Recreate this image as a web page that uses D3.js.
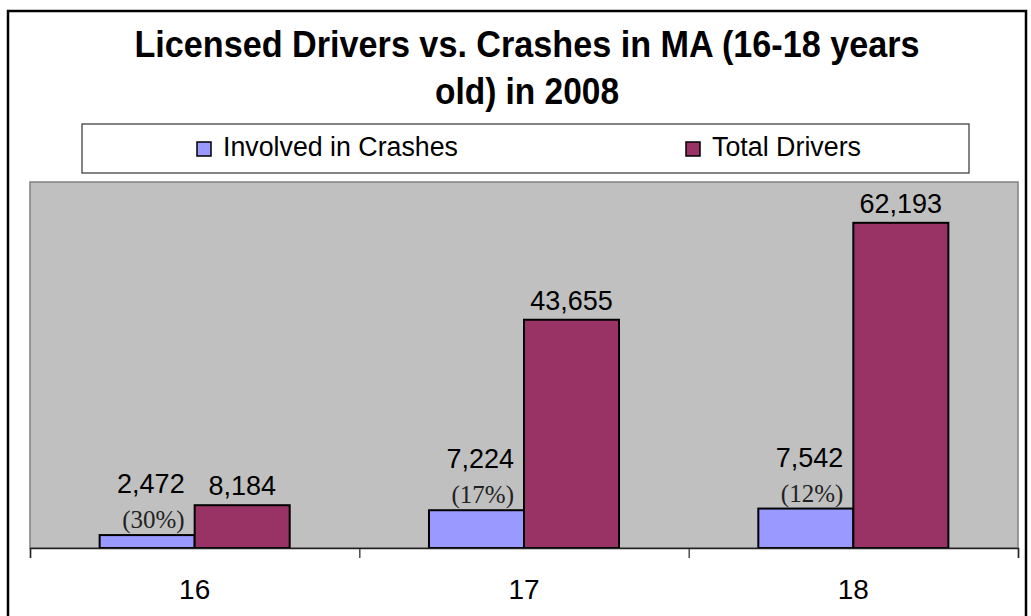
<!DOCTYPE html>
<html>
<head>
<meta charset="utf-8">
<script src="https://cdn.jsdelivr.net/npm/d3@7"></script>
<style>
  body { margin: 0; background: #fff; }
  text { font-family: Arial, "Liberation Sans", sans-serif; }
</style>
</head>
<body>
<svg id="chart"></svg>
<script>
// data
let ages = ["16", "17", "18"];
let seriesNames = ["Involved in Crashes", "Total Drivers"];
let crashes = [2472, 7224, 7542];
let totals = [8184, 43655, 62193];
let titleLines = ["Licensed Drivers vs. Crashes in MA (16-18 years", "old) in 2008"];
let colors = ["#9999ff", "#993366"];

let svg = d3.select("#chart").attr("width", 1031).attr("height", 616);

// outer frame
svg.append("rect")
    .attr("x", 8).attr("y", 11)
    .attr("width", 1018).attr("height", 640)
    .attr("fill", "#fff").attr("stroke", "#000").attr("stroke-width", 2.5);

// title, squeezed a bit like the original
let titleWidths = [785, 184];
svg.selectAll(".title").data(titleLines).enter()
    .append("text")
    .attr("class", "title")
    .attr("x", 527)
    .attr("y", function (d, i) { return 57 + i * 47; })
    .attr("text-anchor", "middle")
    .attr("font-weight", "bold")
    .attr("font-size", 37)
    .attr("textLength", function (d, i) { return titleWidths[i]; })
    .attr("lengthAdjust", "spacingAndGlyphs")
    .text(function (d) { return d; });

// legend
svg.append("rect")
    .attr("x", 82).attr("y", 124)
    .attr("width", 887).attr("height", 49)
    .attr("fill", "#fff").attr("stroke", "#333").attr("stroke-width", 1.2);

let legendX = [197, 686];
let legendW = [235, 149];
let leg = svg.selectAll(".leg").data(seriesNames).enter()
    .append("g")
    .attr("class", "leg")
    .attr("transform", function (d, i) { return "translate(" + legendX[i] + ",0)"; });
leg.append("rect")
    .attr("x", 0).attr("y", 142)
    .attr("width", 14).attr("height", 14)
    .attr("fill", function (d, i) { return colors[i]; })
    .attr("stroke", "#000").attr("stroke-width", 1.5);
leg.append("text")
    .attr("x", 26).attr("y", 156)
    .attr("font-size", 27)
    .attr("fill", "#000")
    .attr("textLength", function (d, i) { return legendW[i]; })
    .attr("lengthAdjust", "spacingAndGlyphs")
    .text(function (d) { return d; });

// plot area
let plotLeft = 30, plotRight = 1018, plotTop = 182, plotBottom = 548;

svg.append("rect")
    .attr("x", plotLeft).attr("y", plotTop)
    .attr("width", plotRight - plotLeft).attr("height", plotBottom - plotTop)
    .attr("fill", "#c0c0c0").attr("stroke", "#808080").attr("stroke-width", 1.5);

let x0 = d3.scaleBand().domain(ages).range([plotLeft, plotRight]).paddingInner(0).paddingOuter(0);
let x1 = d3.scaleBand().domain(seriesNames).range([0, x0.bandwidth()]).paddingInner(0).paddingOuter(0.733);
let y = d3.scaleLinear().domain([0, 70000]).range([plotBottom, plotTop]);

let rows = ages.map(function (a, i) {
    return { age: a, vals: [crashes[i], totals[i]] };
});

let groups = svg.selectAll(".grp").data(rows).enter()
    .append("g")
    .attr("class", "grp")
    .attr("transform", function (d) { return "translate(" + x0(d.age) + ",0)"; });

groups.selectAll("rect")
    .data(function (d) { return d.vals.map(function (v, j) { return { name: seriesNames[j], v: v, j: j }; }); })
    .enter().append("rect")
    .attr("x", function (d) { return x1(d.name); })
    .attr("y", function (d) { return y(d.v); })
    .attr("width", x1.bandwidth())
    .attr("height", function (d) { return plotBottom - y(d.v); })
    .attr("fill", function (d) { return colors[d.j]; })
    .attr("stroke", "#000").attr("stroke-width", 2);

let fmt = d3.format(",");
let pct = d3.format(".0%");

// total labels, centred above the red bars
groups.append("text")
    .attr("x", function () { return x1(seriesNames[1]) + x1.bandwidth() / 2; })
    .attr("y", function (d) { return y(d.vals[1]) - 10; })
    .attr("text-anchor", "middle")
    .attr("font-size", 27)
    .text(function (d) { return fmt(d.vals[1]); });

// crash labels, right aligned over the blue bars
groups.append("text")
    .attr("x", function () { return x1(seriesNames[0]) + x1.bandwidth() - 10; })
    .attr("y", function (d) { return y(d.vals[0]) - 42; })
    .attr("text-anchor", "end")
    .attr("font-size", 27)
    .text(function (d) { return fmt(d.vals[0]); });

groups.append("text")
    .attr("x", function () { return x1(seriesNames[0]) + x1.bandwidth() - 10; })
    .attr("y", function (d) { return y(d.vals[0]) - 7; })
    .attr("text-anchor", "end")
    .attr("font-size", 25)
    .style("font-family", "'Liberation Serif', 'Times New Roman', serif")
    .attr("fill", "#222")
    .text(function (d) { return "(" + pct(d.vals[0] / d.vals[1]) + ")"; });

// x axis: line with ticks on the band edges, labels at band centres
let edge = d3.scaleLinear().domain([0, ages.length]).range([plotLeft, plotRight]);
svg.append("g")
    .attr("transform", "translate(0," + plotBottom + ")")
    .call(d3.axisBottom(edge).tickValues(d3.range(ages.length + 1)).tickSize(10).tickFormat(""))
    .call(function (g) {
        g.select(".domain").attr("stroke", "#222").attr("stroke-width", 1.5);
        g.selectAll(".tick line").attr("stroke", "#222").attr("stroke-width", 1.2);
    });

svg.append("g")
    .attr("transform", "translate(0," + plotBottom + ")")
    .call(d3.axisBottom(x0).tickSize(0).tickPadding(31))
    .call(function (g) {
        g.select(".domain").remove();
        g.selectAll("text").attr("font-size", 28).attr("fill", "#000")
            .style("font-family", "Arial, 'Liberation Sans', sans-serif");
    });
</script>
</body>
</html>
